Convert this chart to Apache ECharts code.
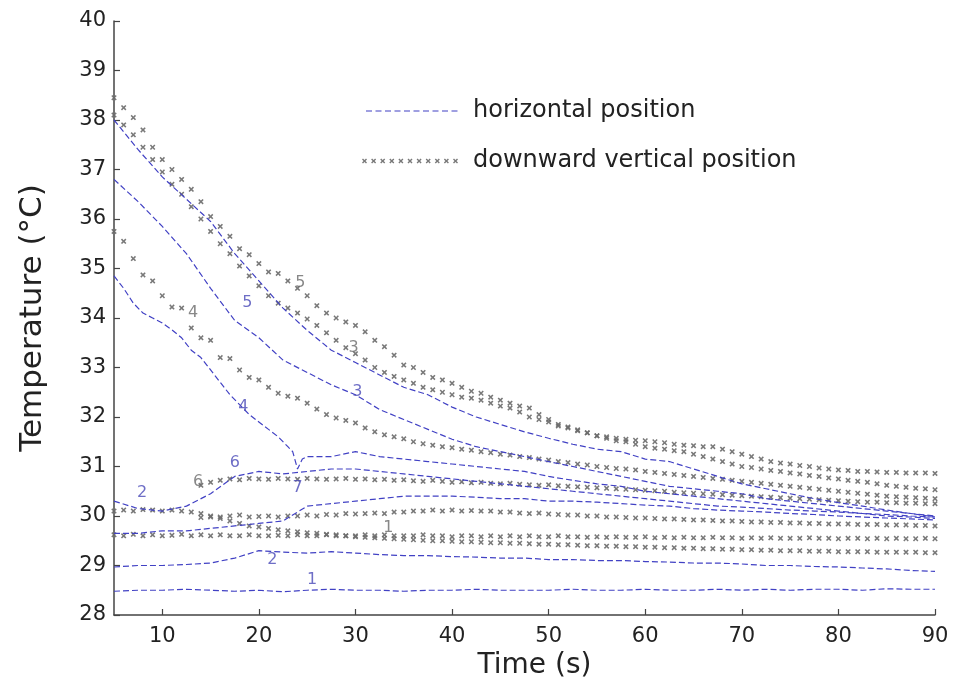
<!DOCTYPE html>
<html>
<head>
<meta charset="utf-8">
<script src="https://cdn.jsdelivr.net/npm/echarts@6/dist/echarts.min.js"></script>
<style>
html,body{margin:0;padding:0;background:#fff;}
#chart{width:959px;height:696px;}
</style>
</head>
<body>
<div id="chart"></div>
<script>
// ---------- DATA ----------
// time grid for the "downward vertical position" markers (s)
const time = [5,6,7,8,9,10,11,12,13,14,15,16,17,18,19,20,21,22,23,24,25,26,27,28,29,30,31,32,33,34,35,36,37,38,39,40,41,42,43,44,45,46,47,48,49,50,51,52,53,54,55,56,57,58,59,60,61,62,63,64,65,66,67,68,69,70,71,72,73,74,75,76,77,78,79,80,81,82,83,84,85,86,87,88,89,90];
// time grid for the "horizontal position" lines (s)
const tBlue = [5,7.5,10,12.5,15, 17.5,20,22.5,25,27.5, 30,32.5,35,37.5,40, 42.5,45,47.5,50,52.5, 55,57.5,60,62.5,65, 67.5,70,72.5,75,77.5, 80,82.5,85,87.5,90];
const tH4 = [5,6,7,8,9,10,11,12,13,14,15,16,17,18,19,20,21,22,23,23.5,24,24.5,25,27.5,30,32.5,35,37.5,40,42.5,45,47.5,50,52.5,55,57.5,60,62.5,65,67.5,70,72.5,75,77.5,80,82.5,85,87.5,90];

// horizontal position (°C)
const h1 = [28.48,28.50,28.50,28.52,28.50, 28.48,28.50,28.47,28.50,28.52, 28.50,28.50,28.48,28.50,28.50, 28.52,28.50,28.50,28.50,28.52, 28.50,28.50,28.52,28.50,28.50, 28.52,28.50,28.52,28.50,28.52, 28.52,28.50,28.53,28.52,28.52];
const h2 = [28.97,29.00,29.00,29.02,29.05, 29.15,29.30,29.27,29.25,29.28, 29.25,29.22,29.20,29.20,29.18, 29.17,29.15,29.15,29.12,29.12, 29.10,29.10,29.08,29.07,29.05, 29.05,29.03,29.00,29.00,28.98, 28.97,28.95,28.93,28.90,28.88];
const h3 = [38.00,37.40,36.85,36.40,35.95, 35.30,34.75,34.20,33.75,33.35, 33.10,32.85,32.60,32.45,32.20, 32.00,31.85,31.70,31.57,31.45, 31.35,31.30,31.15,31.10,30.95, 30.80,30.65,30.55,30.45,30.35, 30.27,30.20,30.12,30.05,29.98];
const h4 = [34.85,34.6,34.3,34.1,34.0,33.9,33.76,33.6,33.35,33.2,32.95,32.7,32.45,32.25,32.05,31.9,31.75,31.6,31.4,31.3,30.95,31.15,31.2,31.2,31.3,31.2,31.15,31.1,31.05,31.0,30.95,30.9,30.8,30.72,30.65,30.6,30.5,30.45,30.4,30.35,30.3,30.25,30.2,30.15,30.1,30.05,30.0,29.98,29.95];
const h5 = [36.80,36.35,35.85,35.30,34.60, 33.95,33.60,33.15,32.90,32.65, 32.45,32.15,31.95,31.75,31.55, 31.40,31.30,31.20,31.10,31.00, 30.90,30.80,30.70,30.60,30.55, 30.50,30.45,30.35,30.30,30.25, 30.20,30.15,30.10,30.05,30.00];
const h6 = [30.30,30.15,30.10,30.20,30.45, 30.80,30.90,30.85,30.90,30.95, 30.95,30.90,30.85,30.80,30.75, 30.70,30.65,30.60,30.55,30.50, 30.45,30.40,30.35,30.30,30.25, 30.20,30.18,30.15,30.12,30.10, 30.08,30.05,30.03,30.00,29.98];
const h7 = [29.65,29.65,29.70,29.70,29.75, 29.80,29.85,29.90,30.20,30.25, 30.30,30.35,30.40,30.40,30.40, 30.38,30.35,30.35,30.30,30.30, 30.28,30.25,30.22,30.20,30.15, 30.12,30.10,30.08,30.05,30.03, 30.00,29.98,29.96,29.94,29.92];

// downward vertical position (°C), aligned with `time`
const v5 = [38.45,38.25,38.05,37.8,37.45,37.2,37.0,36.8,36.6,36.35,
  36.05,35.85,35.65,35.4,35.28,35.1,34.93,34.9,34.75,34.6,
  34.45,34.25,34.1,34.0,33.92,33.85,33.72,33.55,33.42,33.25,
  33.05,33.0,32.9,32.8,32.75,32.68,32.6,32.52,32.48,32.4,
  32.34,32.28,32.22,32.18,32.05,31.95,31.82,31.78,31.72,31.68,
  31.62,31.6,31.57,31.55,31.53,31.52,31.5,31.48,31.45,31.43,
  31.42,31.4,31.4,31.35,31.3,31.25,31.2,31.15,31.1,31.07,
  31.05,31.02,31.0,30.97,30.95,30.93,30.92,30.9,30.9,30.89,
  30.88,30.88,30.87,30.87,30.87,30.86];
const v3 = [38.1,37.9,37.7,37.45,37.2,36.95,36.7,36.5,36.25,36.0,
  35.75,35.5,35.3,35.05,34.85,34.65,34.45,34.3,34.2,34.1,
  33.98,33.85,33.7,33.55,33.4,33.28,33.15,33.0,32.9,32.82,
  32.75,32.68,32.6,32.55,32.5,32.45,32.4,32.38,32.34,32.28,
  32.22,32.18,32.1,32.0,31.95,31.9,31.85,31.8,31.74,31.68,
  31.62,31.57,31.52,31.5,31.45,31.4,31.37,31.35,31.32,31.3,
  31.25,31.2,31.15,31.1,31.05,31.0,30.98,30.95,30.92,30.9,
  30.87,30.85,30.82,30.8,30.77,30.75,30.72,30.7,30.68,30.65,
  30.62,30.6,30.58,30.56,30.55,30.53];
const v4 = [35.75,35.55,35.2,34.87,34.75,34.45,34.22,34.2,33.8,33.6,
  33.55,33.2,33.18,32.95,32.8,32.75,32.6,32.48,32.42,32.38,
  32.28,32.16,32.05,31.98,31.93,31.88,31.78,31.7,31.64,31.6,
  31.56,31.5,31.46,31.43,31.4,31.38,31.35,31.33,31.3,31.28,
  31.25,31.23,31.2,31.18,31.15,31.13,31.1,31.08,31.05,31.03,
  31.0,30.98,30.96,30.95,30.93,30.9,30.88,30.86,30.84,30.82,
  30.8,30.78,30.76,30.74,30.72,30.7,30.68,30.66,30.64,30.62,
  30.6,30.58,30.56,30.54,30.52,30.5,30.48,30.46,30.44,30.42,
  30.4,30.39,30.38,30.37,30.36,30.35];
const v6 = [null,null,null,null,null,null,null,null,null,
  30.62,30.68,30.72,30.75,30.73,30.76,30.75,30.74,30.76,30.75,
  30.74,30.76,30.75,30.74,30.75,30.76,30.74,30.75,30.73,30.74,
  30.72,30.73,30.71,30.7,30.72,30.7,30.68,30.69,30.67,30.68,
  30.66,30.65,30.66,30.64,30.63,30.62,30.63,30.61,30.6,30.59,
  30.58,30.57,30.56,30.55,30.54,30.53,30.52,30.51,30.5,30.48,
  30.47,30.46,30.45,30.44,30.43,30.42,30.41,30.4,30.39,30.38,
  30.37,30.36,30.35,30.34,30.33,30.32,30.31,30.3,30.29,30.28,
  30.28,30.27,30.27,30.26,30.26,30.25,30.25];
const v7 = [null,null,null,null,null,null,null,null,null,
  29.97,29.98,29.98,30.0,30.02,29.98,29.99,30.0,29.98,30.0,
  30.0,30.02,30.0,30.03,30.02,30.05,30.04,30.05,30.06,30.05,
  30.08,30.08,30.1,30.1,30.12,30.1,30.12,30.1,30.11,30.1,
  30.1,30.08,30.08,30.06,30.05,30.06,30.04,30.03,30.02,30.02,
  30.0,30.0,29.98,29.98,29.97,29.96,29.96,29.95,29.94,29.94,
  29.93,29.92,29.92,29.91,29.9,29.9,29.89,29.88,29.88,29.87,
  29.87,29.86,29.86,29.85,29.85,29.84,29.84,29.84,29.83,29.83,
  29.83,29.82,29.82,29.82,29.81,29.81,29.8];
const v1 = [29.62,29.6,29.63,29.6,29.62,29.6,29.61,29.63,29.6,29.62,
  29.6,29.62,29.6,29.6,29.62,29.6,29.6,29.61,29.6,29.62,
  29.6,29.6,29.62,29.6,29.6,29.6,29.62,29.6,29.62,29.6,
  29.6,29.6,29.62,29.6,29.6,29.58,29.6,29.6,29.58,29.6,
  29.58,29.6,29.58,29.6,29.58,29.58,29.6,29.58,29.58,29.57,
  29.58,29.57,29.58,29.57,29.57,29.58,29.56,29.57,29.56,29.57,
  29.56,29.56,29.57,29.56,29.56,29.55,29.56,29.55,29.56,29.55,
  29.55,29.55,29.56,29.55,29.55,29.54,29.55,29.55,29.54,29.55,
  29.54,29.55,29.54,29.54,29.55,29.54];
const v2 = [30.1,30.12,30.1,30.13,30.12,30.1,30.12,30.1,30.08,30.05,
  30.0,29.95,29.9,29.85,29.8,29.78,29.75,29.72,29.7,29.68,
  29.66,29.65,29.63,29.62,29.6,29.58,29.57,29.56,29.55,29.54,
  29.53,29.52,29.51,29.5,29.5,29.49,29.48,29.48,29.47,29.46,
  29.46,29.45,29.45,29.44,29.43,29.43,29.42,29.42,29.41,29.4,
  29.4,29.39,29.39,29.38,29.38,29.37,29.37,29.36,29.36,29.35,
  29.35,29.34,29.34,29.33,29.33,29.32,29.32,29.31,29.31,29.3,
  29.3,29.3,29.29,29.29,29.29,29.28,29.28,29.28,29.28,29.27,
  29.27,29.27,29.27,29.27,29.26,29.26];

// curve number annotations
const noteText = ['1','2','1','2','6','6','7','4','3','5','4','5','3'];
const noteX = [25.5,21.4,33.4,7.9,13.7,17.5,24.0,18.4,30.2,18.8,13.2,24.3,29.8];
const noteY = [28.71,29.11,29.76,30.46,30.69,31.07,30.57,32.2,32.5,34.3,34.1,34.71,33.4];
const noteKind = ['h','h','v','h','v','h','h','h','h','h','v','v','v'];

// ---------- CHART ----------
const FONT = 'DejaVu Sans';
const BLUE = '#4141c4';
const GRAY = '#6a6a6a';
const H_NAME = 'horizontal position';
const V_NAME = 'downward vertical position';

function pairs(t, v) {
  const out = [];
  const n = Math.min(t.length, v.length);
  for (let i = 0; i < n; i++) if (v[i] != null) out.push([t[i], v[i]]);
  return out;
}
const xPath = 'M0,2L2,0L5,3L8,0L10,2L7,5L10,8L8,10L5,7L2,10L0,8L3,5Z';
function xShape(ox, oy, s) {
  const p = [[0,2],[2,0],[5,3],[8,0],[10,2],[7,5],[10,8],[8,10],[5,7],[2,10],[0,8],[3,5]];
  return 'M' + p.map(q => (ox + q[0]*s).toFixed(2) + ',' + (oy + q[1]*s).toFixed(2)).join('L') + 'Z';
}
// legend icons (bbox padded to 100 x 10 with tiny invisible corners)
const pad = 'M0,0L0.01,0L0,0.01Z M100,10L99.99,10L100,9.99Z';
let legendXs = pad;
for (let i = 0; i < 11; i++) legendXs += ' ' + xShape(i * 9.1, 2.5, 0.5);
let legendDash = pad;
for (let i = 0; i < 10; i++) legendDash += ' M' + (4 + i * 9.5) + ',4.4h6v1.2h-6Z';

const series = [];
[[tBlue,h1],[tBlue,h2],[tBlue,h3],[tH4,h4],[tBlue,h5],[tBlue,h6],[tBlue,h7]].forEach(([t, v]) => {
  series.push({
    name: H_NAME, type: 'line', data: pairs(t, v), symbol: 'none', smooth: false,
    lineStyle: { color: BLUE, width: 1.2, type: [6, 3] }, itemStyle: { color: BLUE },
    z: 3, silent: true
  });
});
[v5, v3, v4, v6, v7, v1, v2].forEach(v => {
  series.push({
    name: V_NAME, type: 'scatter', data: pairs(time, v),
    symbol: 'path://' + xPath, symbolSize: 5.5,
    itemStyle: { color: GRAY, opacity: 0.9 }, z: 2, silent: true
  });
});
series.push({
  name: 'notes', type: 'scatter', symbolSize: 0, silent: true, z: 5,
  data: noteText.map((s, i) => ({
    value: [noteX[i], noteY[i]],
    label: {
      show: true, position: 'inside', formatter: s,
      color: noteKind[i] === 'h' ? '#4a4ab8' : '#6a6a6a',
      fontFamily: FONT, fontSize: 16
    }
  }))
});

const chart = echarts.init(document.getElementById('chart'), null, { renderer: 'canvas' });
chart.setOption({
  backgroundColor: '#ffffff',
  animation: false,
  grid: { left: 114, right: 24, top: 21, bottom: 81, containLabel: false },
  legend: {
    orient: 'vertical', left: 362, top: 99, padding: 0, itemGap: 26,
    itemWidth: 100, itemHeight: 10, selectedMode: false,
    textStyle: { fontFamily: FONT, fontSize: 24, color: '#222', padding: [0, 0, 0, 6] },
    data: [
      { name: H_NAME, icon: 'path://' + legendDash, itemStyle: { color: BLUE } },
      { name: V_NAME, icon: 'path://' + legendXs, itemStyle: { color: GRAY } }
    ]
  },
  xAxis: {
    type: 'value', min: 5, max: 90, splitNumber: 9,
    name: 'Time (s)', nameLocation: 'middle', nameGap: 30,
    nameTextStyle: { fontFamily: FONT, fontSize: 28, color: '#222', padding: [0, 0, 0, 20] },
    axisLine: { show: true, onZero: false, lineStyle: { color: '#444', width: 1.5 } },
    axisTick: { show: true, inside: true, length: 6, lineStyle: { color: '#444', width: 1.2 } },
    axisLabel: { showMinLabel: false, fontFamily: FONT, fontSize: 21, color: '#222', margin: 11 },
    splitLine: { show: false }
  },
  yAxis: {
    type: 'value', min: 28, max: 40, interval: 1,
    name: 'Temperature (°C)', nameLocation: 'middle', nameGap: 66, nameRotate: 90,
    nameTextStyle: { fontFamily: FONT, fontSize: 31, color: '#222' },
    axisLine: { show: true, onZero: false, lineStyle: { color: '#444', width: 1.5 } },
    axisTick: { show: true, inside: true, length: 6, lineStyle: { color: '#444', width: 1.2 } },
    axisLabel: { fontFamily: FONT, fontSize: 21, color: '#222', margin: 8 },
    splitLine: { show: false }
  },
  series: series
});
</script>
</body>
</html>
